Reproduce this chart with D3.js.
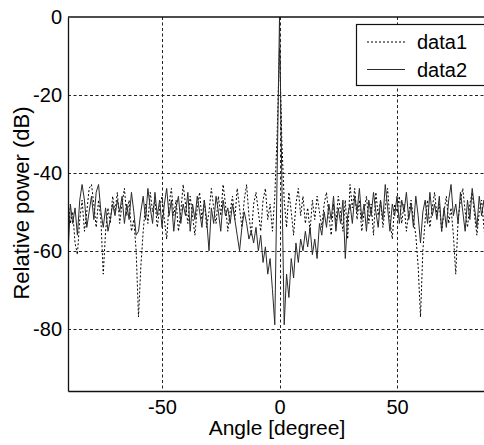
<!DOCTYPE html>
<html>
<head>
<meta charset="utf-8">
<script src="https://cdn.jsdelivr.net/npm/d3@7"></script>
<style>
  body { margin: 0; background: #fff; }
  svg { display: block; font-family: "Liberation Sans", Arial, sans-serif; }
</style>
</head>
<body>
<div id="container"></div>
<script>
// DATA
const angles = d3.range(-90, 91, 1); // degrees, one sample per degree

// data1 (dotted)
const data1 = [
  -47, -53, -50, -58, -61, -52, -47, -55, -50, -44,   // -90..-81
  -43, -48, -54, -47, -52, -66, -55, -49, -53, -46,   // -80..-71
  -50, -45, -53, -48, -44, -51, -47, -55, -52, -60,   // -70..-61
  -77, -64, -55, -48, -53, -45, -50, -47, -54, -49,   // -60..-51
  -46, -52, -57, -48, -44, -51, -47, -55, -50, -43,   // -50..-41
  -48, -53, -46, -51, -56, -49, -45, -52, -47, -54,   // -40..-31
  -50, -44, -49, -53, -46, -51, -43, -48, -55, -50,   // -30..-21
  -46, -52, -44, -49, -54, -47, -43, -51, -56, -48,   // -20..-11
  -45, -50, -55, -47, -44, -52, -48, -55, -46, -30,   // -10..-1
  -8,                                                 // 0
  -32, -47, -54, -45, -50, -56, -48, -44, -51, -46,   // 1..10
  -53, -49, -55, -47, -52, -46, -50, -54, -48, -45,   // 11..20
  -51, -56, -48, -53, -46, -50, -55, -47, -57, -43,   // 21..30
  -49, -44, -52, -47, -55, -50, -46, -53, -48, -56,   // 31..40
  -45, -51, -47, -54, -49, -44, -52, -57, -48, -50,   // 41..50
  -46, -53, -48, -55, -50, -47, -52, -56, -64, -77,   // 51..60
  -60, -52, -47, -54, -49, -45, -51, -48, -55, -50,   // 61..70
  -46, -53, -49, -56, -66, -52, -47, -44, -50, -54,   // 71..80
  -48, -45, -51, -56, -50, -47, -54, -60, -52, -49    // 81..90
];

// data2 (solid)
const data2 = [
  -61, -48, -53, -49, -56, -47, -43, -47, -54, -50,   // -90..-81
  -46, -52, -45, -43, -50, -54, -49, -55, -52, -48,   // -80..-71
  -51, -47, -50, -46, -53, -48, -52, -45, -50, -56,   // -70..-61
  -55, -50, -46, -52, -44, -49, -53, -45, -51, -47,   // -60..-51
  -54, -48, -44, -51, -47, -55, -49, -46, -53, -48,   // -50..-41
  -51, -45, -55, -48, -52, -46, -50, -54, -47, -52,   // -40..-31
  -60, -49, -53, -46, -50, -55, -47, -51, -49, -53,   // -30..-21
  -48, -52, -56, -60, -54, -50, -53, -57, -55, -58,   // -20..-11
  -54, -60, -56, -63, -59, -66, -62, -70, -79, -40,   // -10..-1
  0,                                                  // 0
  -42, -79, -66, -72, -62, -67, -58, -63, -57, -60,   // 1..10
  -55, -59, -54, -61, -57, -62, -53, -56, -50, -54,   // 11..20
  -48, -52, -46, -55, -49, -53, -47, -62, -51, -48,   // 21..30
  -53, -46, -50, -44, -52, -48, -55, -47, -51, -45,   // 31..40
  -50, -54, -47, -52, -43, -49, -55, -48, -51, -46,   // 41..50
  -53, -47, -50, -45, -52, -48, -54, -46, -51, -58,   // 51..60
  -50, -47, -53, -45, -51, -48, -52, -46, -55, -49,   // 61..70
  -54, -47, -43, -51, -48, -53, -45, -50, -55, -47,   // 71..80
  -52, -44, -49, -54, -46, -51, -47, -55, -50, -48    // 81..90
];

const xTicks = [-50, 0, 50];
const yTicks = [0, -20, -40, -60, -80];
const seriesNames = ["data1", "data2"];

// LAYOUT
const width = 484,
  height = 445,
  margin = { top: 17, left: 68, bottom: 54 };

const xScale = d3.scaleLinear()
  .domain([-90, 90])
  .range([margin.left, 491]);

const yScale = d3.scaleLinear()
  .domain([-96, 0])
  .range([height - margin.bottom, margin.top]);

const svg = d3.select("#container")
  .append("svg")
  .attr("width", width)
  .attr("height", height);

svg.append("clipPath")
  .attr("id", "plotclip")
  .append("rect")
  .attr("x", xScale(-90))
  .attr("y", yScale(0))
  .attr("width", xScale(90) - xScale(-90))
  .attr("height", yScale(-96) - yScale(0));

// grid
const grid = svg.append("g")
  .attr("stroke", "#222")
  .attr("stroke-width", 1)
  .attr("stroke-dasharray", "3,2.5");

grid.selectAll(".vgrid")
  .data(xTicks)
  .join("line")
  .attr("x1", d => Math.round(xScale(d)) + 0.5)
  .attr("x2", d => Math.round(xScale(d)) + 0.5)
  .attr("y1", yScale(0))
  .attr("y2", yScale(-96));

grid.selectAll(".hgrid")
  .data(yTicks.filter(d => d !== 0))
  .join("line")
  .attr("x1", xScale(-90))
  .attr("x2", xScale(90))
  .attr("y1", d => Math.round(yScale(d)) + 0.5)
  .attr("y2", d => Math.round(yScale(d)) + 0.5);

// lines
const line = d3.line()
  .x((d, i) => xScale(angles[i]))
  .y(d => yScale(d));

const plot = svg.append("g").attr("clip-path", "url(#plotclip)");

plot.append("path")
  .datum(data1)
  .attr("fill", "none")
  .attr("stroke", "#000")
  .attr("stroke-width", 1)
  .attr("stroke-dasharray", "2,2")
  .attr("d", line);

plot.append("path")
  .datum(data2)
  .attr("fill", "none")
  .attr("stroke", "#2a2a2a")
  .attr("stroke-width", 1)
  .attr("d", line);

// axes box (left, top, bottom) - plain hyphen minus like the original
const xAxis = d3.axisBottom(xScale).tickValues(xTicks).tickSize(0).tickPadding(10).tickFormat(d => String(d));
const yAxis = d3.axisLeft(yScale).tickValues(yTicks).tickSize(0).tickPadding(6).tickFormat(d => String(d));

const gx = svg.append("g")
  .attr("transform", `translate(0,${yScale(-96)})`)
  .call(xAxis);

const gy = svg.append("g")
  .attr("transform", `translate(${xScale(-90)},0)`)
  .call(yAxis);

svg.append("line")
  .attr("x1", xScale(-90)).attr("x2", xScale(90))
  .attr("y1", yScale(0)).attr("y2", yScale(0))
  .attr("stroke", "#111").attr("stroke-width", 1.3);

[gx, gy].forEach(g => {
  g.select(".domain").attr("stroke", "#111").attr("stroke-width", 1.3);
  g.selectAll("text")
    .attr("fill", "#000")
    .style("font-size", "20px")
    .style("font-family", "Liberation Sans, Arial, sans-serif");
});
gx.selectAll("text").attr("dy", "0.66em");

// axis titles
svg.append("text")
  .attr("x", 277)
  .attr("y", 435)
  .attr("text-anchor", "middle")
  .style("font-size", "21px")
  .text("Angle [degree]");

svg.append("text")
  .attr("transform", "translate(29,203) rotate(-90)")
  .attr("text-anchor", "middle")
  .style("font-size", "22px")
  .text("Relative power (dB)");

// legend
const legend = svg.append("g");
legend.append("rect")
  .attr("x", 356.5)
  .attr("y", 24.5)
  .attr("width", 140)
  .attr("height", 61)
  .attr("fill", "#fff")
  .attr("stroke", "#111")
  .attr("stroke-width", 1.2);

const rows = legend.selectAll(".row")
  .data(seriesNames)
  .join("g")
  .attr("transform", (d, i) => `translate(0,${42 + i * 27.5})`);

rows.append("line")
  .attr("x1", 367).attr("x2", 405)
  .attr("y1", 0).attr("y2", 0)
  .attr("stroke", (d, i) => i === 0 ? "#000" : "#2a2a2a")
  .attr("stroke-width", 1)
  .attr("stroke-dasharray", (d, i) => i === 0 ? "2,2" : null);

rows.append("text")
  .attr("x", 417)
  .attr("y", 7)
  .style("font-size", "20px")
  .text(d => d);
</script>
</body>
</html>
